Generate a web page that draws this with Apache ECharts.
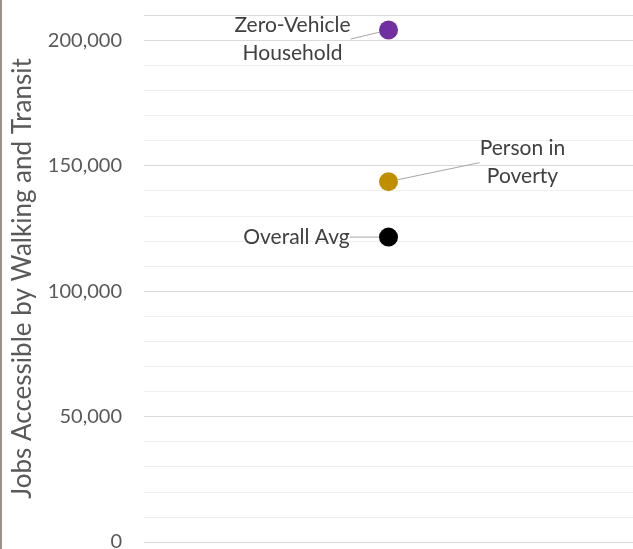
<!DOCTYPE html>
<html>
<head>
<meta charset="utf-8">
<script src="https://cdn.jsdelivr.net/npm/echarts@6/dist/echarts.min.js"></script>
<style>
  html, body { margin: 0; padding: 0; background: #fff; }
  #chart { width: 633px; height: 549px; }
</style>
</head>
<body>
<div id="chart"></div>
<script>
// Jobs reachable by walking and transit, by group
const groups = ['Zero-Vehicle\nHousehold', 'Person in\nPoverty', 'Overall Avg'];
const jobs = [204000, 143600, 121500];
const colors = ['#7030a0', '#bf8f00', '#000000'];
const labelOffsets = [[-96, 9], [134, -19], [-92, 0]];
const yTicks = [0, 50000, 100000, 150000, 200000];

const font = 'Lato, "Noto Sans", sans-serif';

const series = groups.map((g, i) => ({
  type: 'scatter',
  name: g,
  data: [[0, jobs[i]]],
  symbolSize: 19,
  itemStyle: { color: colors[i], opacity: 1 },
  label: {
    show: true,
    formatter: g,
    position: 'inside',
    color: '#404040',
    fontSize: 21,
    fontFamily: font,
    lineHeight: 28,
    align: 'center'
  },
  labelLayout: { dx: labelOffsets[i][0], dy: labelOffsets[i][1] },
  labelLine: { show: true, lineStyle: { color: '#a6a6a6', width: 1 } }
}));

const chart = echarts.init(document.getElementById('chart'), null, { renderer: 'canvas' });
chart.setOption({
  animation: false,
  grid: { left: 144, right: 0, top: 15, bottom: 7, containLabel: false, outerBoundsMode: 'none' },
  xAxis: {
    type: 'category',
    data: ['all'],
    show: false
  },
  yAxis: {
    type: 'value',
    min: 0,
    max: 210000,
    interval: 50000,
    name: 'Jobs Accessible by Walking and Transit',
    nameLocation: 'middle',
    nameGap: 108,
    nameTextStyle: { color: '#595959', fontSize: 26, fontFamily: font },
    axisLine: { show: false },
    axisTick: { show: false },
    axisLabel: {
      color: '#595959',
      fontSize: 20,
      fontFamily: font,
      margin: 22,
      formatter: v => (yTicks.includes(v) ? v.toLocaleString('en-US') : '')
    },
    splitLine: { show: true, lineStyle: { color: '#d9d9d9', width: 1 } },
    minorTick: { show: false, splitNumber: 5 },
    minorSplitLine: { show: true, lineStyle: { color: '#f0f0f0', width: 1 } }
  },
  graphic: [{
    type: 'rect',
    shape: { x: 0, y: 0, width: 2, height: 549 },
    style: { fill: '#9e8f8a' }
  }],
  series: series
});
</script>
</body>
</html>
